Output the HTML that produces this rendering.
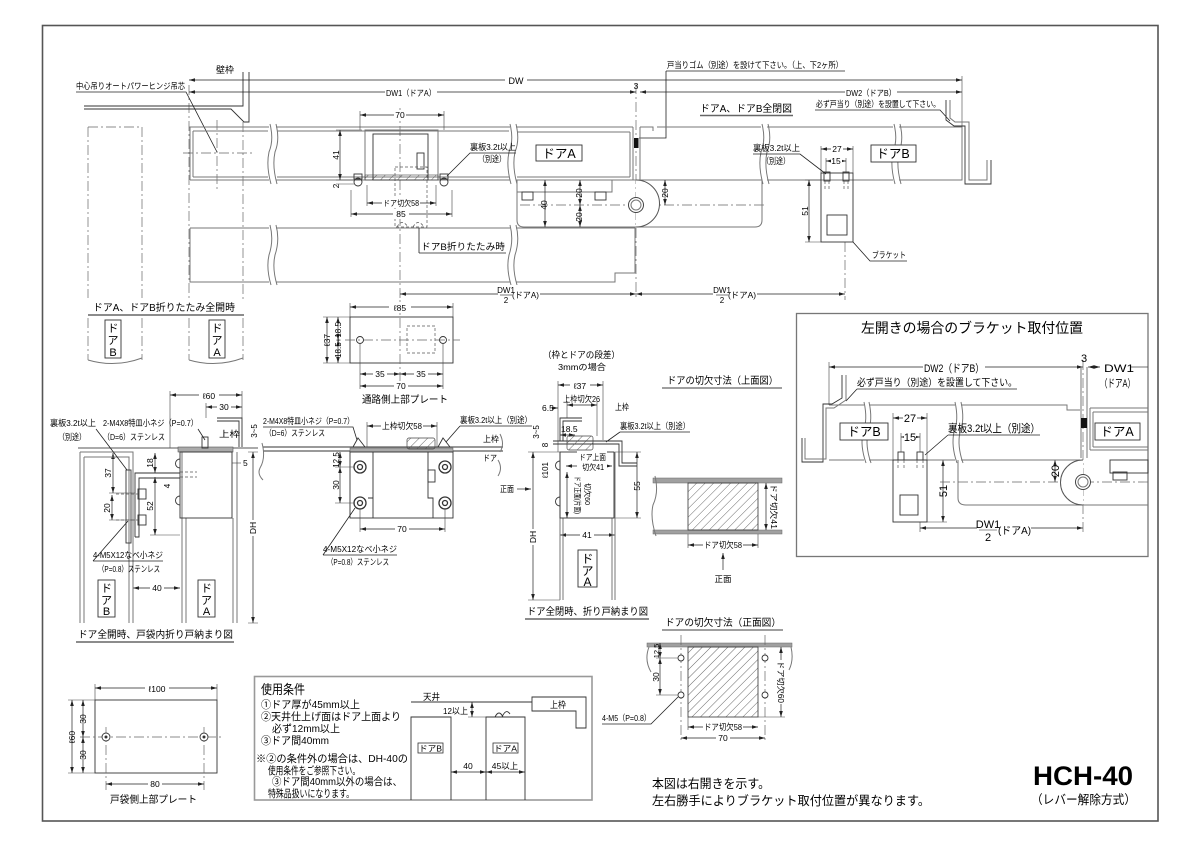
<!DOCTYPE html>
<html><head><meta charset="utf-8"><style>
html,body{margin:0;padding:0;background:#fff}
svg{display:block}
text{font-family:"Liberation Sans","Noto Sans CJK JP",sans-serif;fill:#000}
.d line{stroke:#222;stroke-width:.7;fill:none;marker-start:url(#m);marker-end:url(#m)}
.e{stroke:#444;stroke-width:.6;fill:none}
.g{stroke:#777;stroke-width:1;fill:none}
.k{stroke:#333;stroke-width:.9;fill:none}
.c{stroke:#666;stroke-width:.7;fill:none;stroke-dasharray:10 3 2 3}
.ds{stroke:#555;stroke-width:.7;fill:none;stroke-dasharray:3 2}
.u{stroke:#222;stroke-width:.8}
.w{fill:#fff}
</style></head><body>
<svg width="1200" height="848" viewBox="0 0 1200 848" xmlns="http://www.w3.org/2000/svg">
<defs>
<marker id="m" markerUnits="userSpaceOnUse" viewBox="0 0 10 6" refX="10" refY="3" markerWidth="6" markerHeight="3.6" orient="auto-start-reverse"><path d="M0,0 L10,3 L0,6z" fill="#222"/></marker>
<pattern id="h" patternUnits="userSpaceOnUse" width="6" height="6" patternTransform="rotate(45)"><line x1="0" y1="0" x2="0" y2="6" stroke="#444" stroke-width="0.8"/></pattern>
</defs>
<rect width="1200" height="848" fill="#fff"/>
<rect x="42.5" y="25.5" width="1115.5" height="795.5" fill="none" stroke="#555" stroke-width="1.6"/>

<!-- ================= TOP PLAN ================= -->
<g class="c">
<line x1="189" y1="85" x2="189" y2="300"/>
<line x1="243" y1="122" x2="243" y2="300"/>
<line x1="183" y1="153" x2="254" y2="153"/>
<line x1="217" y1="120" x2="217" y2="190"/>
<line x1="400" y1="108" x2="400" y2="300"/>
<line x1="636" y1="84" x2="636" y2="300"/>
<line x1="845" y1="242" x2="845" y2="300"/>
<line x1="520" y1="205" x2="765" y2="205"/>
<line x1="88" y1="127" x2="88" y2="298"/>
<line x1="142" y1="127" x2="142" y2="298"/>
<line x1="88" y1="127" x2="142" y2="127"/>
<line x1="189" y1="127" x2="243" y2="127"/>
</g>
<path class="k" d="M84,106 H243 V72 M84,109 H231 L244,122 H249 V72"/>
<text x="225" y="73" font-size="9" text-anchor="middle">壁枠</text>
<text x="76" y="89" font-size="8.5" textLength="109" lengthAdjust="spacingAndGlyphs">中心吊りオートパワーヒンジ吊芯</text>
<path class="u" d="M76,92 H186 L217,152" fill="none"/>

<g class="d">
<line x1="189" y1="80" x2="962" y2="80"/>
<line x1="189" y1="92" x2="636" y2="92"/>
<line x1="640" y1="92" x2="962" y2="92"/>
</g>
<line class="e" x1="962" y1="76" x2="962" y2="126"/>
<rect class="w" x="505" y="75" width="22" height="10"/><text x="516" y="84" font-size="9" text-anchor="middle">DW</text>
<rect class="w" x="385" y="87" width="52" height="10"/><text x="386" y="96" font-size="8.5" textLength="50" lengthAdjust="spacingAndGlyphs">DW1（ドアA）</text>
<rect class="w" x="845" y="87" width="52" height="10"/><text x="846" y="96" font-size="8.5" textLength="50" lengthAdjust="spacingAndGlyphs">DW2（ドアB）</text>
<text x="636" y="89" font-size="8.5" text-anchor="middle">3</text>

<text x="667" y="68" font-size="8.5" textLength="176" lengthAdjust="spacingAndGlyphs">戸当りゴム（別途）を設けて下さい。（上、下2ヶ所）</text>
<path class="u" d="M666,71 H845 M666,71 V138 H639" fill="none"/>
<text x="700" y="112" font-size="10" textLength="92" lengthAdjust="spacingAndGlyphs">ドアA、ドアB全閉図</text>
<line x1="700" y1="115.5" x2="793" y2="115.5" stroke="#666" stroke-width="1.5"/>
<text x="816" y="107" font-size="8.5" textLength="124" lengthAdjust="spacingAndGlyphs">必ず戸当り（別途）を設置して下さい。</text>
<path class="u" d="M815,110 H940 L950,121" fill="none"/>

<path class="k" d="M946,100 V120 L954,126 H965 V184 H991 V160"/>
<path class="g" d="M950,100 V118 L955,122 H969 V180 H987 V160"/>

<g class="g">
<path d="M190,127 H269 M276,127 H510 M516,127 H633 M190,180 H269 M276,180 H510 M516,180 H633 M190,127 V180 M633,127 V180"/>
<path d="M193,131 H268 M277,131 H509 M517,132 H630 M193,177 H268 M277,177 H509 M517,177 H630 M193,131 V177 M630,132 V177"/>
<path d="M270,124 Q274,140 269,152 Q266,166 271,184 M276,124 Q280,140 275,152 Q272,166 277,184"/>
<path d="M510,124 Q514,140 509,152 Q506,166 511,184 M516,124 Q520,140 515,152 Q512,166 517,184"/>
</g>
<rect class="g" x="365" y="130" width="73" height="50"/>
<rect class="k" x="373" y="134" width="55" height="46"/>
<rect class="k" x="417" y="153" width="7" height="16"/>
<rect x="365" y="175" width="73" height="5" fill="url(#h)" stroke="#444" stroke-width=".6"/>
<circle class="k" cx="358" cy="182" r="4"/><circle class="k" cx="444" cy="182" r="4"/>
<rect class="k" x="354" y="174" width="8" height="5"/><rect class="k" x="440" y="174" width="8" height="5"/>
<rect class="ds" x="395" y="167" width="32" height="60"/>
<path class="ds" d="M397,227 Q402,218 408,227 M413,227 Q418,218 424,227"/>
<g class="d">
<line x1="360" y1="115" x2="444" y2="115"/>
<line x1="340" y1="130" x2="340" y2="180"/>
<line x1="367" y1="203" x2="436" y2="203"/>
<line x1="351" y1="214" x2="452" y2="214"/>
</g>
<path class="e" d="M360,111 V130 M444,111 V130 M336,130 H362 M336,180 H360 M336,184 H355 M367,185 V206 M436,185 V206 M351,190 V217 M452,190 V217"/>
<rect class="w" x="394" y="110" width="12" height="10"/><text x="400" y="118" font-size="8.5" text-anchor="middle">70</text>
<text transform="translate(339,155) rotate(-90)" font-size="8.5" text-anchor="middle">41</text>
<text transform="translate(339,186) rotate(-90)" font-size="8" text-anchor="middle">2</text>
<rect class="w" x="382" y="198" width="38" height="10"/><text x="383" y="206" font-size="8" textLength="36" lengthAdjust="spacingAndGlyphs">ドア切欠58</text>
<rect class="w" x="393" y="209" width="16" height="10"/><text x="401" y="217" font-size="8.5" text-anchor="middle">85</text>
<text x="470" y="150" font-size="8.5" textLength="46" lengthAdjust="spacingAndGlyphs">裏板3.2t以上</text>
<text x="478" y="162" font-size="8.5" textLength="28" lengthAdjust="spacingAndGlyphs">（別途）</text>
<path class="u" d="M516,153 H470 L447,176" fill="none"/>
<rect x="536" y="145" width="46" height="16" fill="#fff" stroke="#333" stroke-width=".9"/>
<text x="559" y="158" font-size="12.5" text-anchor="middle">ドアA</text>
<rect x="634" y="138" width="4.5" height="10" fill="#111"/>

<g class="g">
<path d="M640,127 H653 V131 M657,127 H761 M767,127 H893 M899,127 H962 V180 H899 M893,180 H767 M761,180 H640 V127"/>
<path d="M762,124 Q766,140 761,152 Q758,166 763,184 M768,124 Q772,140 767,152 Q764,166 769,184"/>
<path d="M894,124 Q898,140 893,152 Q890,166 895,184 M900,124 Q904,140 899,152 Q896,166 901,184"/>
</g>
<rect x="871" y="145" width="45" height="17" fill="#fff" stroke="#333" stroke-width=".9"/>
<text x="893" y="158" font-size="12.5" text-anchor="middle">ドアB</text>
<path class="g" d="M517,180 H762 V220 Q762,227 755,227 H524 Q517,227 517,220 Z"/>
<path class="g" d="M517,192 H612 V180"/>
<rect class="k" x="522" y="192" width="11" height="8"/><rect class="k" x="595" y="192" width="11" height="8"/>
<path d="M636,180 A23.5,23.5 0 0 1 636,227" fill="#fff" stroke="#555" stroke-width="1"/>
<circle cx="636" cy="205" r="7.5" fill="#fff" stroke="#444" stroke-width="1"/><circle class="g" cx="636" cy="205" r="5"/>
<g class="d">
<line x1="545" y1="180" x2="545" y2="227"/>
<line x1="580" y1="180" x2="580" y2="205"/>
<line x1="580" y1="205" x2="580" y2="227"/>
<line x1="665" y1="180" x2="665" y2="205"/>
</g>
<text transform="translate(547,205) rotate(-90)" font-size="8.5" text-anchor="middle">40</text>
<text transform="translate(582,193) rotate(-90)" font-size="8.5" text-anchor="middle">20</text>
<text transform="translate(582,217) rotate(-90)" font-size="8.5" text-anchor="middle">20</text>
<text transform="translate(668,193) rotate(-90)" font-size="8.5" text-anchor="middle">20</text>
<g class="g">
<path d="M190,228 H269 M276,228 H510 M516,228 H635 V273 H615 V282 H516 M510,282 H276 M269,282 H190 V228"/>
<path d="M270,225 Q274,240 269,255 Q266,268 271,285 M276,225 Q280,240 275,255 Q272,268 277,285"/>
<path d="M510,225 Q514,240 509,255 Q506,268 511,285 M516,225 Q520,240 515,255 Q512,268 517,285"/>
</g>
<text x="421" y="250" font-size="9.5" textLength="84" lengthAdjust="spacingAndGlyphs">ドアB折りたたみ時</text>
<path class="u" d="M419,253 H506 M419,228 V253" fill="none"/>
<rect class="k" x="821" y="173" width="32" height="69"/>
<rect class="k" x="827" y="215" width="20" height="20"/>
<path class="e" d="M821,146 V173 M853,146 V173 M826,158 V173 M846,158 V173"/>
<rect class="k" x="824" y="172" width="6" height="9"/><rect class="k" x="843" y="172" width="6" height="9"/>
<path class="ds" d="M825,181 V190 M829,181 V190 M844,181 V190 M848,181 V190"/>
<g class="d">
<line x1="821" y1="149" x2="853" y2="149"/>
<line x1="826" y1="161" x2="846" y2="161"/>
<line x1="809" y1="180" x2="809" y2="242"/>
</g>
<path class="e" d="M805,242 H821 M805,180 H821"/>
<rect class="w" x="831" y="144" width="12" height="9"/><text x="837" y="152" font-size="8.5" text-anchor="middle">27</text>
<rect class="w" x="831" y="156" width="11" height="9"/><text x="836" y="164" font-size="8.5" text-anchor="middle">15</text>
<text transform="translate(808,211) rotate(-90)" font-size="8.5" text-anchor="middle">51</text>
<text x="753" y="151" font-size="8.5" textLength="47" lengthAdjust="spacingAndGlyphs">裏板3.2t以上</text>
<text x="762" y="164" font-size="8.5" textLength="28" lengthAdjust="spacingAndGlyphs">（別途）</text>
<path class="u" d="M753,154 H800 L826,174" fill="none"/>
<text x="872" y="258" font-size="8.5" textLength="34" lengthAdjust="spacingAndGlyphs">ブラケット</text>
<path class="u" d="M853,242 L870,261 H907" fill="none"/>
<g class="d">
<line x1="400" y1="294" x2="636" y2="294"/>
<line x1="636" y1="294" x2="845" y2="294"/>
</g>
<rect class="w" x="498" y="285" width="42" height="19"/>
<text x="506" y="293" font-size="8" text-anchor="middle">DW1</text><line x1="500" y1="295" x2="512" y2="295" stroke="#222" stroke-width=".6"/><text x="506" y="303" font-size="8" text-anchor="middle">2</text>
<text x="512" y="298" font-size="8.5" textLength="27" lengthAdjust="spacingAndGlyphs">(ドアA)</text>
<rect class="w" x="713" y="285" width="44" height="19"/>
<text x="722" y="293" font-size="8" text-anchor="middle">DW1</text><line x1="716" y1="295" x2="728" y2="295" stroke="#222" stroke-width=".6"/><text x="722" y="303" font-size="8" text-anchor="middle">2</text>
<text x="728" y="298" font-size="8.5" textLength="28" lengthAdjust="spacingAndGlyphs">(ドアA)</text>

<text x="93" y="311" font-size="10" textLength="142" lengthAdjust="spacingAndGlyphs">ドアA、ドアB折りたたみ全開時</text>
<line x1="88" y1="315" x2="244" y2="315" stroke="#666" stroke-width="1.4"/>
<g class="c">
<path d="M88,318 V360 M142,318 V360 M189,318 V360 M243,318 V360"/>
</g>
<path class="g" d="M88,360 Q115,368 142,358 M189,360 Q216,368 243,358"/>
<rect x="105" y="320" width="16" height="38" fill="#fff" stroke="#333" stroke-width=".9"/>
<text x="113" y="332" font-size="11" text-anchor="middle">ド</text><text x="113" y="344" font-size="11" text-anchor="middle">ア</text><text x="113" y="356" font-size="11" text-anchor="middle">B</text>
<rect x="209" y="320" width="16" height="38" fill="#fff" stroke="#333" stroke-width=".9"/>
<text x="217" y="332" font-size="11" text-anchor="middle">ド</text><text x="217" y="344" font-size="11" text-anchor="middle">ア</text><text x="217" y="356" font-size="11" text-anchor="middle">A</text>

<rect class="k" x="350" y="317" width="103" height="46"/>
<rect class="ds" x="407" y="326" width="28" height="27"/>
<line class="c" x1="345" y1="340" x2="460" y2="340"/>
<line class="c" x1="400" y1="300" x2="400" y2="390"/>
<circle class="k" cx="360" cy="340" r="3.5"/><circle class="k" cx="443" cy="340" r="3.5"/>
<g class="d">
<line x1="350" y1="307" x2="453" y2="307"/>
<line x1="360" y1="374" x2="400" y2="374"/>
<line x1="400" y1="374" x2="443" y2="374"/>
<line x1="360" y1="386" x2="443" y2="386"/>
<line x1="327" y1="317" x2="327" y2="363"/>
<line x1="338" y1="317" x2="338" y2="340"/>
<line x1="338" y1="340" x2="338" y2="363"/>
</g>
<path class="e" d="M350,303 V317 M453,303 V317 M360,343 V389 M443,343 V389 M323,317 H350 M323,363 H350"/>
<rect class="w" x="389" y="302" width="22" height="10"/><text x="400" y="311" font-size="8.5" text-anchor="middle">ℓ85</text>
<rect class="w" x="373" y="369" width="14" height="10"/><text x="380" y="377" font-size="8.5" text-anchor="middle">35</text>
<rect class="w" x="414" y="369" width="14" height="10"/><text x="421" y="377" font-size="8.5" text-anchor="middle">35</text>
<rect class="w" x="394" y="381" width="14" height="10"/><text x="401" y="389" font-size="8.5" text-anchor="middle">70</text>
<text transform="translate(330,340) rotate(-90)" font-size="8.5" text-anchor="middle">ℓ37</text>
<text transform="translate(341,340) rotate(-90)" font-size="8" text-anchor="middle">18.5+18.5</text>
<text x="362" y="403" font-size="10" textLength="86" lengthAdjust="spacingAndGlyphs">通路側上部プレート</text>

<!-- ================ LEFT ASSEMBLY ================ -->
<g class="d">
<line x1="170" y1="395" x2="242" y2="395"/>
<line x1="206" y1="407" x2="242" y2="407"/>
<line x1="253" y1="452" x2="253" y2="623"/>
<line x1="113" y1="453" x2="113" y2="493"/>
<line x1="112" y1="495" x2="112" y2="520"/>
<line x1="155" y1="453" x2="155" y2="473"/>
<line x1="155" y1="477" x2="155" y2="535"/>
<line x1="133" y1="588" x2="180" y2="588"/>
</g>
<path class="e" d="M170,391 V448 M242,391 V418 M206,403 V418 M109,493 H135 M109,520 H135 M150,473 H180 M150,535 H180 M248,452 H258 M248,623 H258"/>
<rect class="w" x="199" y="390" width="20" height="10"/><text x="209" y="399" font-size="8.5" text-anchor="middle">ℓ60</text>
<rect class="w" x="217" y="402" width="14" height="10"/><text x="224" y="410" font-size="8.5" text-anchor="middle">30</text>
<path class="k" d="M217,418 H242 V447 M217,421 H239 V447"/>
<text x="219" y="437" font-size="8.5" textLength="21" lengthAdjust="spacingAndGlyphs">上枠</text>
<line x1="78" y1="448" x2="258" y2="448" stroke="#555" stroke-width=".9"/>
<rect x="178" y="447" width="55" height="5" fill="#aaa" stroke="#555" stroke-width=".6"/>
<rect class="k" x="202" y="437" width="6" height="11"/>
<text transform="translate(257,431) rotate(-90)" font-size="8" text-anchor="middle">3~5</text>
<path class="g" d="M80,452 H133 V623 M80,452 V623 M84,457 H129 V623 M84,457 V623"/>
<path class="g" d="M182,452 V623 M237,452 V623 M186,518 V623 M233,518 V623"/>
<rect class="k" x="180" y="452" width="52" height="66"/>
<path class="k" d="M180,473 H135 V537 M180,478 H139 V537 H135"/>
<rect class="k" x="126" y="470" width="5" height="73"/>
<rect class="k" x="138" y="489" width="8" height="10"/><rect class="k" x="138" y="515" width="8" height="10"/>
<path class="ds" d="M116,494 H138 M116,520 H138 M180,472 H197 M180,477 H197"/>
<path class="k" d="M180,459 A4,4 0 0 0 180,468 M180,496 A4,4 0 0 0 180,505"/>
<line class="e" x1="232" y1="463" x2="237" y2="463"/><line class="e" x1="237" y1="463" x2="241" y2="463"/><text x="243" y="466" font-size="8.5">5</text>
<text transform="translate(111,473) rotate(-90)" font-size="8.5" text-anchor="middle">37</text>
<text transform="translate(110,508) rotate(-90)" font-size="8.5" text-anchor="middle">20</text>
<text transform="translate(153,463) rotate(-90)" font-size="8.5" text-anchor="middle">18</text>
<text transform="translate(153,506) rotate(-90)" font-size="8.5" text-anchor="middle">52</text>
<text transform="translate(170,486) rotate(-90)" font-size="8" text-anchor="middle">4</text>
<rect class="w" x="249" y="520" width="9" height="16"/><text transform="translate(256,528) rotate(-90)" font-size="8.5" text-anchor="middle">DH</text>
<text x="50" y="426" font-size="8.5" textLength="46" lengthAdjust="spacingAndGlyphs">裏板3.2t以上</text>
<text x="58" y="440" font-size="8.5" textLength="28" lengthAdjust="spacingAndGlyphs">（別途）</text>
<path class="u" d="M96,429 L127,470" fill="none"/>
<text x="103" y="426" font-size="8.5" textLength="95" lengthAdjust="spacingAndGlyphs">2-M4X8特皿小ネジ（P=0.7）</text>
<text x="103" y="440" font-size="8.5" textLength="62" lengthAdjust="spacingAndGlyphs">（D=6）ステンレス</text>
<path class="u" d="M198,429 L205,440" fill="none"/>
<text x="93" y="558" font-size="8.5" textLength="70" lengthAdjust="spacingAndGlyphs">4-M5X12なべ小ネジ</text>
<text x="98" y="572" font-size="8.5" textLength="62" lengthAdjust="spacingAndGlyphs">（P=0.8）ステンレス</text>
<path class="u" d="M93,561 H163 M93,561 L128,521" fill="none"/>
<rect x="98" y="580" width="17" height="37" fill="#fff" stroke="#333" stroke-width=".9"/>
<text x="106.5" y="592" font-size="11" text-anchor="middle">ド</text><text x="106.5" y="604" font-size="11" text-anchor="middle">ア</text><text x="106.5" y="615" font-size="11" text-anchor="middle">B</text>
<rect x="198" y="580" width="17" height="37" fill="#fff" stroke="#333" stroke-width=".9"/>
<text x="206.5" y="592" font-size="11" text-anchor="middle">ド</text><text x="206.5" y="604" font-size="11" text-anchor="middle">ア</text><text x="206.5" y="615" font-size="11" text-anchor="middle">A</text>
<rect class="w" x="150" y="583" width="14" height="10"/><text x="157" y="591" font-size="8.5" text-anchor="middle">40</text>
<text x="78" y="638" font-size="10" textLength="155" lengthAdjust="spacingAndGlyphs">ドア全開時、戸袋内折り戸納まり図</text>
<line x1="76" y1="642" x2="234" y2="642" stroke="#666" stroke-width="1.4"/>

<!-- ================ MIDDLE ASSEMBLY ================ -->
<path class="k" d="M263,447 H503 M263,451 H503"/>
<path class="g" d="M262,443 Q266,458 260,468 Q257,474 263,480 M500,434 Q505,444 500,452 M498,460 Q503,468 498,476"/>
<rect x="350" y="448" width="103" height="4" fill="#aaa" stroke="#555" stroke-width=".5"/>
<rect class="k" x="350" y="452" width="103" height="66"/>
<path class="k" d="M373,452 V498 M368,498 H373 V518 M428,452 V498 H433 V518 M373,518 V508"/>
<rect class="k" x="428" y="470" width="7" height="12"/>
<g fill="none" stroke="#333" stroke-width="1.3">
<circle cx="360" cy="467" r="6"/><circle cx="360" cy="467" r="2.5"/>
<circle cx="445" cy="467" r="6"/><circle cx="445" cy="467" r="2.5"/>
<circle cx="360" cy="503" r="6"/><circle cx="360" cy="503" r="2.5"/>
<circle cx="445" cy="503" r="6"/><circle cx="445" cy="503" r="2.5"/>
</g>
<rect x="407" y="438" width="28" height="11" rx="2" fill="url(#h)" stroke="#444" stroke-width=".7"/>
<path class="k" d="M353,447 L358,438 L365,447 M438,447 L443,438 L450,447"/>
<g class="d">
<line x1="340" y1="452" x2="340" y2="467"/>
<line x1="340" y1="467" x2="340" y2="503"/>
<line x1="360" y1="529" x2="445" y2="529"/>
<line x1="367" y1="426" x2="437" y2="426"/>
</g>
<path class="e" d="M335,467 H355 M335,503 H355 M360,508 V532 M445,508 V532 M367,422 V447 M437,422 V447"/>
<text transform="translate(339,460) rotate(-90)" font-size="8" text-anchor="middle">12.5</text>
<text transform="translate(339,485) rotate(-90)" font-size="8.5" text-anchor="middle">30</text>
<rect class="w" x="395" y="524" width="14" height="10"/><text x="402" y="532" font-size="8.5" text-anchor="middle">70</text>
<rect class="w" x="381" y="421" width="42" height="10"/><text x="382" y="429" font-size="8.5" textLength="40" lengthAdjust="spacingAndGlyphs">上枠切欠58</text>
<text x="263" y="424" font-size="8.5" textLength="91" lengthAdjust="spacingAndGlyphs">2-M4X8特皿小ネジ（P=0.7）</text>
<text x="265" y="436" font-size="8.5" textLength="60" lengthAdjust="spacingAndGlyphs">（D=6）ステンレス</text>
<path class="u" d="M263,427 H353 L357,440" fill="none"/>
<text x="460" y="423" font-size="8.5" textLength="72" lengthAdjust="spacingAndGlyphs">裏板3.2t以上（別途）</text>
<path class="u" d="M460,426 H532 M460,426 L446,442" fill="none"/>
<text x="483" y="442" font-size="8.5" textLength="16" lengthAdjust="spacingAndGlyphs">上枠</text>
<text x="483" y="461" font-size="8.5" textLength="14" lengthAdjust="spacingAndGlyphs">ドア</text>
<text x="323" y="552" font-size="8.5" textLength="74" lengthAdjust="spacingAndGlyphs">4-M5X12なべ小ネジ</text>
<text x="327" y="565" font-size="8.5" textLength="62" lengthAdjust="spacingAndGlyphs">（P=0.8）ステンレス</text>
<path class="u" d="M323,555 H397 M323,555 L355,508" fill="none"/>
<text x="500" y="492" font-size="8.5" textLength="14" lengthAdjust="spacingAndGlyphs">正面</text>
<line x1="517" y1="489" x2="531" y2="489" stroke="#222" stroke-width=".7" marker-end="url(#m)"/>

<!-- ================ RIGHT ASSEMBLY ================ -->
<text x="543" y="358" font-size="9" textLength="77" lengthAdjust="spacingAndGlyphs">（枠とドアの段差）</text>
<text x="558" y="370" font-size="8.5" textLength="48" lengthAdjust="spacingAndGlyphs">3mmの場合</text>
<g class="d">
<line x1="558" y1="385" x2="603" y2="385"/>
<line x1="567" y1="405" x2="597" y2="405"/>
<line x1="560" y1="435" x2="575" y2="435"/>
<line x1="533" y1="452" x2="533" y2="600"/>
<line x1="637" y1="452" x2="637" y2="518"/>
<line x1="560" y1="535" x2="615" y2="535"/>
<line x1="566" y1="466" x2="612" y2="466"/>
<line x1="567" y1="472" x2="567" y2="518"/>
</g>
<line x1="553" y1="408" x2="558" y2="408" stroke="#222" stroke-width=".7" marker-end="url(#m)"/>
<path class="e" d="M558,381 V452 M603,381 V440 M567,401 V418 M597,401 V436 M528,452 H560 M528,600 H560 M615,452 H641 M615,518 H641 M560,518 V538 M615,518 V538"/>
<rect class="w" x="570" y="380" width="20" height="10"/><text x="580" y="389" font-size="8.5" text-anchor="middle">ℓ37</text>
<text x="563" y="402" font-size="8.5" textLength="37" lengthAdjust="spacingAndGlyphs">上枠切欠26</text>
<text x="542" y="411" font-size="8.5">6.5</text>
<text x="615" y="410" font-size="8.5" textLength="14" lengthAdjust="spacingAndGlyphs">上枠</text>
<text x="620" y="429" font-size="8.5" textLength="70" lengthAdjust="spacingAndGlyphs">裏板3.2t以上（別途）</text>
<path class="u" d="M620,432 H690 M620,432 L606,442" fill="none"/>
<text x="561" y="432" font-size="8.5">18.5</text>
<text transform="translate(539,432) rotate(-90)" font-size="8" text-anchor="middle">3~5</text>
<text transform="translate(548,445) rotate(-90)" font-size="8" text-anchor="middle">8</text>
<path class="k" d="M560,441 V418 H582 M563,441 V421 H582"/>
<path class="k" d="M553,441 H622 V463 H637 M553,444 H619 V466 H637"/>
<rect x="567" y="436" width="26" height="14" rx="2" fill="url(#h)" stroke="#444" stroke-width=".7"/>
<path class="g" d="M560,452 V600 M615,452 V600 M563,518 V600 M612,518 V600"/>
<rect class="k" x="560" y="452" width="54" height="66"/>
<path class="k" d="M560,461 A4.5,4.5 0 0 0 560,470 M560,497 A4.5,4.5 0 0 0 560,506"/>
<rect class="w" x="577" y="451" width="30" height="22"/>
<text x="579" y="460" font-size="8" textLength="27" lengthAdjust="spacingAndGlyphs">ドア上面</text>
<rect class="w" x="581" y="463" width="24" height="8"/>
<text x="582" y="470" font-size="8" textLength="22" lengthAdjust="spacingAndGlyphs">切欠41</text>
<text transform="translate(575,476) rotate(90)" font-size="7.5" textLength="38" lengthAdjust="spacingAndGlyphs">ドア正面(片面)</text>
<text transform="translate(585,483) rotate(90)" font-size="7.5" textLength="22" lengthAdjust="spacingAndGlyphs">切欠60</text>
<text transform="translate(548,470) rotate(-90)" font-size="8" text-anchor="middle">ℓ101</text>
<text transform="translate(640,486) rotate(-90)" font-size="8.5" text-anchor="middle">55</text>
<rect class="w" x="580" y="530" width="14" height="10"/><text x="587" y="538" font-size="8.5" text-anchor="middle">41</text>
<rect class="w" x="529" y="529" width="9" height="16"/><text transform="translate(536,537) rotate(-90)" font-size="8.5" text-anchor="middle">DH</text>
<rect x="578" y="550" width="19" height="37" fill="#fff" stroke="#333" stroke-width=".9"/>
<text x="587.5" y="563" font-size="12" text-anchor="middle">ド</text><text x="587.5" y="575" font-size="12" text-anchor="middle">ア</text><text x="587.5" y="586" font-size="12" text-anchor="middle">A</text>
<text x="527" y="615" font-size="10" textLength="121" lengthAdjust="spacingAndGlyphs">ドア全閉時、折り戸納まり図</text>
<line x1="525" y1="619" x2="649" y2="619" stroke="#666" stroke-width="1.4"/>

<!-- door cut top view -->
<text x="667" y="384" font-size="10" textLength="111" lengthAdjust="spacingAndGlyphs">ドアの切欠寸法（上面図）</text>
<line x1="662" y1="388" x2="782" y2="388" stroke="#666" stroke-width="1.3"/>
<rect x="653" y="478" width="129" height="5" fill="#a0a0a0" stroke="#666" stroke-width=".5"/>
<rect x="653" y="530" width="129" height="4" fill="#a0a0a0" stroke="#666" stroke-width=".5"/>
<path class="g" d="M655,476 Q659,492 653,505 Q650,518 656,536"/>
<rect x="688" y="483" width="70" height="47" fill="url(#h)" stroke="#333" stroke-width=".8"/>
<g class="d">
<line x1="766" y1="483" x2="766" y2="530"/>
<line x1="688" y1="545" x2="758" y2="545"/>
</g>
<path class="e" d="M688,534 V548 M758,534 V548"/>
<text transform="translate(771,484) rotate(90)" font-size="8" textLength="45" lengthAdjust="spacingAndGlyphs">ドア切欠41</text>
<rect class="w" x="703" y="540" width="40" height="10"/><text x="704" y="548" font-size="8.5" textLength="38" lengthAdjust="spacingAndGlyphs">ドア切欠58</text>
<line x1="723" y1="570" x2="723" y2="553" stroke="#222" stroke-width=".7" marker-end="url(#m)"/>
<text x="723" y="582" font-size="8.5" text-anchor="middle">正面</text>

<!-- door cut front view -->
<text x="665" y="626" font-size="10" textLength="116" lengthAdjust="spacingAndGlyphs">ドアの切欠寸法（正面図）</text>
<line x1="662" y1="630" x2="783" y2="630" stroke="#666" stroke-width="1.3"/>
<rect x="647" y="643" width="145" height="4" fill="#a0a0a0" stroke="#666" stroke-width=".5"/>
<path class="g" d="M649,647 Q644,660 651,672 M791,647 Q794,660 789,670"/>
<path class="c" d="M681,635 V740 M765,635 V740"/>
<rect x="688" y="647" width="70" height="70" fill="url(#h)" stroke="#333" stroke-width=".8"/>
<g fill="#fff" stroke="#333" stroke-width=".9">
<circle cx="681" cy="658" r="3"/><circle cx="681" cy="695" r="3"/><circle cx="765" cy="658" r="3"/><circle cx="765" cy="695" r="3"/>
</g>
<g class="d">
<line x1="660" y1="643" x2="660" y2="658"/>
<line x1="660" y1="658" x2="660" y2="695"/>
<line x1="781" y1="647" x2="781" y2="717"/>
<line x1="688" y1="727" x2="758" y2="727"/>
<line x1="681" y1="738" x2="765" y2="738"/>
</g>
<path class="e" d="M656,658 H678 M656,695 H678 M758,717 H785 M688,717 V730"/>
<text transform="translate(659,651) rotate(-90)" font-size="7.5" text-anchor="middle">12.5</text>
<text transform="translate(659,677) rotate(-90)" font-size="8.5" text-anchor="middle">30</text>
<rect class="w" x="777" y="660" width="9" height="44"/><text transform="translate(778,661) rotate(90)" font-size="8" textLength="42" lengthAdjust="spacingAndGlyphs">ドア切欠60</text>
<rect class="w" x="703" y="722" width="40" height="10"/><text x="704" y="730" font-size="8.5" textLength="38" lengthAdjust="spacingAndGlyphs">ドア切欠58</text>
<rect class="w" x="716" y="733" width="14" height="10"/><text x="723" y="741" font-size="8.5" text-anchor="middle">70</text>
<text x="602" y="721" font-size="8.5" textLength="49" lengthAdjust="spacingAndGlyphs">4-M5（P=0.8）</text>
<path class="u" d="M602,724 H651 L678,697" fill="none"/>

<!-- ================ LEFT-OPEN BOX ================ -->
<rect x="796.5" y="313.5" width="351.5" height="243" fill="none" stroke="#777" stroke-width="1.3"/>
<text x="972" y="333" font-size="14" text-anchor="middle" textLength="222" lengthAdjust="spacingAndGlyphs">左開きの場合のブラケット取付位置</text>
<g class="d">
<line x1="829" y1="367" x2="1083" y2="367"/>
<line x1="1088" y1="367" x2="1100" y2="367"/>
<line x1="893" y1="418" x2="927" y2="418"/>
<line x1="901" y1="437" x2="920" y2="437"/>
<line x1="943" y1="460" x2="943" y2="522"/>
<line x1="1055" y1="460" x2="1055" y2="482"/>
<line x1="920" y1="528" x2="1083" y2="528"/>
</g>
<path class="e" d="M829,362 V405 M893,413 V460 M927,413 V460 M901,433 V452 M920,433 V452 M927,522 H947 M927,460 H947 M1050,460 H1062 M920,522 V532"/>
<line class="c" x1="1083" y1="360" x2="1083" y2="533"/>
<rect class="w" x="923" y="361" width="62" height="13"/><text x="924" y="372" font-size="11" textLength="60" lengthAdjust="spacingAndGlyphs">DW2（ドアB）</text>
<text x="1084" y="362" font-size="11" text-anchor="middle">3</text>
<text x="1104" y="372" font-size="11" textLength="30" lengthAdjust="spacingAndGlyphs">DW1</text>
<text x="1100" y="387" font-size="11" textLength="35" lengthAdjust="spacingAndGlyphs">（ドアA）</text>
<line x1="1131" y1="367" x2="1148" y2="367" stroke="#444" stroke-width=".7"/>
<text x="857" y="386" font-size="10" textLength="160" lengthAdjust="spacingAndGlyphs">必ず戸当り（別途）を設置して下さい。</text>
<path class="u" d="M857,389 H1017 M857,389 L846,401" fill="none"/>
<path class="k" d="M842,375 V398 L832,404 H823 V462 H802 V438"/>
<path class="g" d="M846,375 V400 L834,408 H826 V459 H805 V438"/>
<g class="g">
<path d="M829,405 H864 M869,405 H955 M961,405 H1067 V410 H1080 M829,460 H864 M869,460 H955 M961,460 H1080"/>
<path d="M864,402 Q868,420 863,432 Q860,446 866,463 M869,402 Q873,420 868,432 Q865,446 871,463"/>
<path d="M955,402 Q959,420 954,432 Q951,446 957,463 M961,402 Q965,420 960,432 Q957,446 963,463"/>
<path d="M1081,367 V458 M1087,367 V458"/>
<path d="M1090,408 H1148 M1093,412 H1148 M1090,408 V450 M1093,412 V447 M1093,447 H1148 M1090,450 H1148"/>
</g>
<rect x="1081" y="418" width="6" height="10" fill="#111"/>
<rect x="840" y="423" width="48" height="17" fill="#fff" stroke="#333" stroke-width=".9"/>
<text x="864" y="436" font-size="12.5" text-anchor="middle">ドアB</text>
<rect x="1095" y="423" width="45" height="17" fill="#fff" stroke="#333" stroke-width=".9"/>
<text x="1117" y="436" font-size="12.5" text-anchor="middle">ドアA</text>
<path class="g" d="M958,460 V498 Q958,505 966,505 H1148"/>
<line class="c" x1="940" y1="482" x2="1148" y2="482"/>
<rect class="k" x="1110" y="460" width="38" height="13"/>
<rect class="k" x="1113" y="472" width="14" height="8"/>
<path d="M1083,460 A22,22 0 0 0 1083,505" fill="#fff" stroke="#555" stroke-width="1"/>
<circle cx="1083" cy="482" r="7.5" fill="#fff" stroke="#444" stroke-width="1"/><circle class="g" cx="1083" cy="482" r="5"/>
<rect class="k" x="893" y="460" width="34" height="62"/>
<rect class="k" x="900" y="495" width="18" height="20"/>
<rect class="k" x="898" y="452" width="6" height="8"/><rect class="k" x="917" y="452" width="6" height="8"/>
<path class="ds" d="M898,460 V470 M904,460 V470 M917,460 V470 M923,460 V470"/>
<rect class="w" x="903" y="413" width="14" height="11"/><text x="910" y="422" font-size="11" text-anchor="middle">27</text>
<rect class="w" x="904" y="432" width="12" height="11"/><text x="910" y="441" font-size="11" text-anchor="middle">15</text>
<text transform="translate(947,491) rotate(-90)" font-size="11" text-anchor="middle">51</text>
<text transform="translate(1059,471) rotate(-90)" font-size="11" text-anchor="middle">20</text>
<text x="948" y="432" font-size="11" textLength="92" lengthAdjust="spacingAndGlyphs">裏板3.2t以上（別途）</text>
<path class="u" d="M948,435 H1040 M948,435 L925,455" fill="none"/>
<rect class="w" x="977" y="518" width="54" height="24"/>
<text x="988" y="528" font-size="11" text-anchor="middle">DW1</text><line x1="979" y1="530" x2="997" y2="530" stroke="#222" stroke-width=".6"/><text x="988" y="541" font-size="11" text-anchor="middle">2</text>
<text x="998" y="534" font-size="10.5" textLength="33" lengthAdjust="spacingAndGlyphs">(ドアA)</text>

<!-- ================ BOTTOM PLATE ================ -->
<rect class="k" x="95" y="700" width="122" height="73"/>
<line class="c" x1="80" y1="737" x2="222" y2="737"/>
<path class="c" d="M106,727 V790 M204,727 V790"/>
<g fill="#fff" stroke="#333" stroke-width=".9"><circle cx="106" cy="737" r="4"/><circle cx="204" cy="737" r="4"/></g>
<circle cx="106" cy="737" r="1.5" fill="#333"/><circle cx="204" cy="737" r="1.5" fill="#333"/>
<g class="d">
<line x1="95" y1="688" x2="217" y2="688"/>
<line x1="72" y1="700" x2="72" y2="773"/>
<line x1="83" y1="700" x2="83" y2="737"/>
<line x1="83" y1="737" x2="83" y2="773"/>
<line x1="106" y1="784" x2="204" y2="784"/>
</g>
<path class="e" d="M95,684 V700 M217,684 V700 M68,700 H95 M68,773 H95"/>
<rect class="w" x="145" y="683" width="24" height="10"/><text x="157" y="692" font-size="8.5" text-anchor="middle">ℓ100</text>
<text transform="translate(75,737) rotate(-90)" font-size="8.5" text-anchor="middle">ℓ60</text>
<text transform="translate(86,719) rotate(-90)" font-size="8.5" text-anchor="middle">30</text>
<text transform="translate(86,755) rotate(-90)" font-size="8.5" text-anchor="middle">30</text>
<rect class="w" x="148" y="779" width="14" height="10"/><text x="155" y="787" font-size="8.5" text-anchor="middle">80</text>
<text x="110" y="803" font-size="10" textLength="87" lengthAdjust="spacingAndGlyphs">戸袋側上部プレート</text>

<!-- ================ CONDITIONS BOX ================ -->
<rect x="254.5" y="676.5" width="337.5" height="123.5" fill="none" stroke="#999" stroke-width="1.6"/>
<text x="261" y="694" font-size="13" textLength="44" lengthAdjust="spacingAndGlyphs">使用条件</text>
<g font-size="10.5">
<text x="261" y="708" textLength="99" lengthAdjust="spacingAndGlyphs">①ドア厚が45mm以上</text>
<text x="261" y="720" textLength="140" lengthAdjust="spacingAndGlyphs">②天井仕上げ面はドア上面より</text>
<text x="272" y="732" textLength="68" lengthAdjust="spacingAndGlyphs">必ず12mm以上</text>
<text x="261" y="744" textLength="68" lengthAdjust="spacingAndGlyphs">③ドア間40mm</text>
<text x="256" y="762" textLength="152" lengthAdjust="spacingAndGlyphs">※②の条件外の場合は、DH-40の</text>
<text x="268" y="774" textLength="92" lengthAdjust="spacingAndGlyphs">使用条件をご参照下さい。</text>
<text x="272" y="785" textLength="130" lengthAdjust="spacingAndGlyphs">③ドア間40mm以外の場合は、</text>
<text x="268" y="797" textLength="86" lengthAdjust="spacingAndGlyphs">特殊品扱いになります。</text>
</g>
<text x="423" y="700" font-size="9" textLength="17" lengthAdjust="spacingAndGlyphs">天井</text>
<line x1="411" y1="702" x2="532" y2="702" stroke="#333" stroke-width=".9"/>
<path class="k" d="M532,697 H586 V728 H576 V711 H532 Z"/>
<text x="550" y="708" font-size="9" textLength="16" lengthAdjust="spacingAndGlyphs">上枠</text>
<path class="k" d="M411,800 V717 H451 V800 M486,800 V717 H525 V800"/>
<path class="k" d="M495,717 Q499,709 503,717 M502,717 Q506,708 510,714"/>
<g class="d"><line x1="472" y1="702" x2="472" y2="717"/>
<line x1="451" y1="772" x2="486" y2="772"/>
<line x1="486" y1="772" x2="525" y2="772"/></g>
<line class="e" x1="468" y1="717" x2="486" y2="717"/>
<text x="443" y="714" font-size="8.5" textLength="25" lengthAdjust="spacingAndGlyphs">12以上</text>
<rect x="418" y="743" width="25" height="10" fill="#fff" stroke="#333" stroke-width=".8"/>
<text x="419" y="751.5" font-size="8.5" textLength="23" lengthAdjust="spacingAndGlyphs">ドアB</text>
<rect x="493" y="743" width="25" height="10" fill="#fff" stroke="#333" stroke-width=".8"/>
<text x="494" y="751.5" font-size="8.5" textLength="23" lengthAdjust="spacingAndGlyphs">ドアA</text>
<text x="468" y="769" font-size="8.5" text-anchor="middle">40</text>
<text x="505" y="769" font-size="8.5" text-anchor="middle">45以上</text>

<!-- ================ FOOTER ================ -->
<text x="652" y="788" font-size="12.5" textLength="118" lengthAdjust="spacingAndGlyphs">本図は右開きを示す。</text>
<text x="652" y="805" font-size="12.5" textLength="278" lengthAdjust="spacingAndGlyphs">左右勝手によりブラケット取付位置が異なります。</text>
<text x="1033" y="785" font-size="27" font-weight="bold" textLength="100" lengthAdjust="spacingAndGlyphs" style="font-family:'Liberation Sans',sans-serif">HCH-40</text>
<text x="1031" y="804" font-size="12.5" textLength="105" lengthAdjust="spacingAndGlyphs">（レバー解除方式）</text>
</svg>
</body></html>
